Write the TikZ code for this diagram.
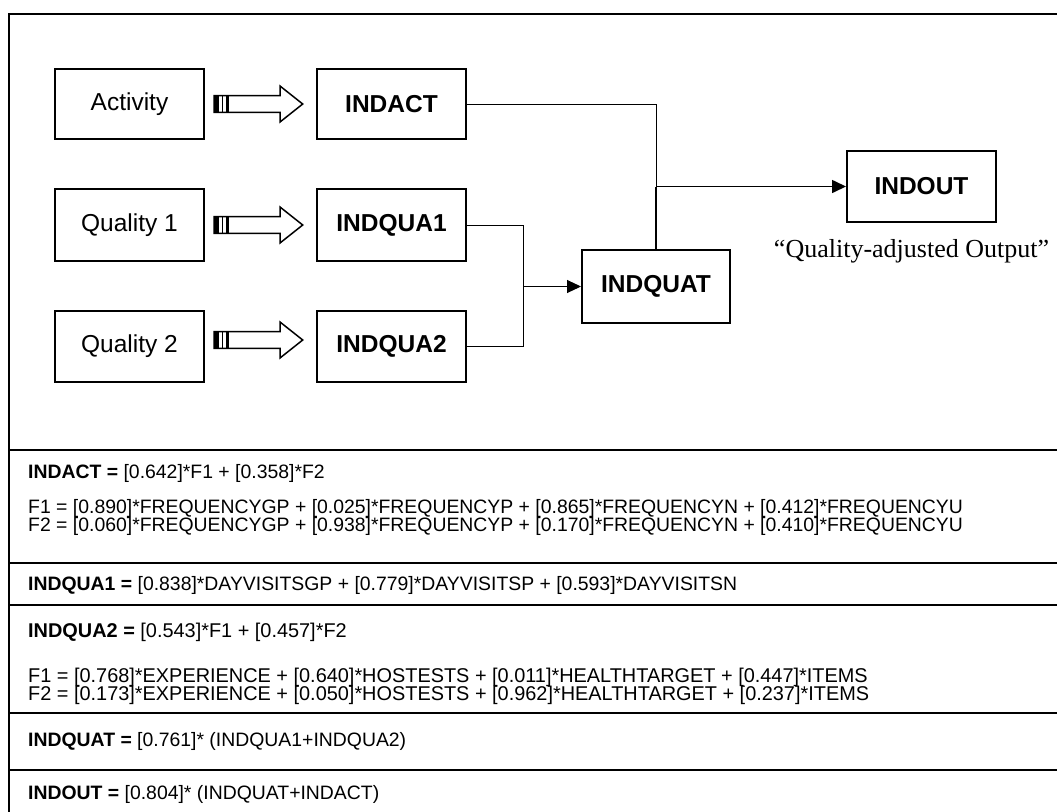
\documentclass[tikz,border=0pt]{standalone}
\usepackage{fontspec}
\setmainfont{Liberation Sans}
\newfontfamily\seriffont{Liberation Serif}
\usetikzlibrary{arrows.meta,calc}
\newcommand{\fatarrow}[1]{%
  \begin{scope}[shift={(#1)}]
    \draw[fat,fill=white] (0,-8.3) -- (66,-8.3) -- (66,-18) -- (88.7,0) -- (66,18) -- (66,8.3) -- (0,8.3) -- cycle;
    \fill (0,-8.3) rectangle (5,8.3);
    \draw[line width=1.3pt] (8.3,-8.3) -- (8.3,8.3);
    \fill (12,-8.3) rectangle (15,8.3);
  \end{scope}}
\begin{document}
\begin{tikzpicture}[x=1pt,y=-1pt,
  box/.style={draw,line width=2pt,minimum width=149pt,inner sep=0pt,font=\fontsize{24.5}{28}\selectfont},
  bbox/.style={box,font=\fontsize{24.5}{28}\selectfont\bfseries},
  conn/.style={line width=1pt},
  outconn/.style={line width=1.6pt},
  tip/.style={-{Triangle[length=14pt,width=13pt]}},
  eq/.style={anchor=base west,inner sep=0pt,font=\fontsize{19.4}{18.3}\selectfont},
  eqw/.style={eq,font=\fontsize{19.9}{18.3}\selectfont},
  sep/.style={line width=2pt},
  fat/.style={line width=1.5pt}]
\useasboundingbox (0,0) rectangle (1057,811);
% outer frame and row separators
\draw[sep] (9,14) rectangle (1075,840);
\foreach \yy in {450,563,605,713,770} \draw[sep] (9,\yy) -- (1075,\yy);
% boxes
\node[box,minimum height=70pt] (act) at (129.5,104) {Activity};
\node[box,minimum height=72pt] (q1) at (129.5,225) {Quality 1};
\node[box,minimum height=71pt] (q2) at (129.5,346.5) {Quality 2};
\node[bbox,minimum height=70pt] (indact) at (391.5,104) {INDACT};
\node[bbox,minimum height=72pt] (indq1) at (391.5,225) {INDQUA1};
\node[bbox,minimum height=71pt] (indq2) at (391.5,346.5) {INDQUA2};
\node[bbox,minimum width=148pt,minimum height=73pt] (quat) at (656,286.5) {INDQUAT};
\node[bbox,minimum width=149pt,minimum height=71pt] (out) at (921.5,186.5) {INDOUT};
\node[inner sep=0pt,font=\seriffont\fontsize{26}{28}\selectfont] (outlbl) at (911.5,251) {“Quality-adjusted Output”};
% hollow arrows
\path (act.east) ++(9,0) coordinate (fa1);
\path (q1.east) ++(9,0) coordinate (fa2);
\path (q2.east) ++(9,-6.5) coordinate (fa3);
\fatarrow{fa1}
\fatarrow{fa2}
\fatarrow{fa3}
% connectors
\coordinate (j1) at (523,286.5);
\draw[conn] (indq1.east) -| (j1);
\draw[conn] (indq2.east) -| (j1);
\draw[conn,tip] (j1) -- (quat.west);
\draw[conn] (indact.east) -| (quat.north);
\coordinate (j2) at (quat.north |- out.west);
\draw[outconn] (quat.north) -- (j2);
\draw[outconn,tip] (j2) -- (out.west);
% equations
\node[eq] (e1) at (28,478) {\textbf{INDACT =} [0.642]*F1 + [0.358]*F2};
\node[eq] (e2) at (28,513) {F1 = [0.890]*FREQUENCYGP + [0.025]*FREQUENCYP + [0.865]*FREQUENCYN + [0.412]*FREQUENCYU};
\node[eq] (e3) at (28,531) {F2 = [0.060]*FREQUENCYGP + [0.938]*FREQUENCYP + [0.170]*FREQUENCYN + [0.410]*FREQUENCYU};
\node[eq] (e4) at (28,590) {\textbf{INDQUA1 =} [0.838]*DAYVISITSGP + [0.779]*DAYVISITSP + [0.593]*DAYVISITSN};
\node[eqw] (e5) at (28,637) {\textbf{INDQUA2 =} [0.543]*F1 + [0.457]*F2};
\node[eqw] (e6) at (28,682) {F1 = [0.768]*EXPERIENCE + [0.640]*HOSTESTS + [0.011]*HEALTHTARGET + [0.447]*ITEMS};
\node[eqw] (e7) at (28,700) {F2 = [0.173]*EXPERIENCE + [0.050]*HOSTESTS + [0.962]*HEALTHTARGET + [0.237]*ITEMS};
\node[eq] (e8) at (28,746) {\textbf{INDQUAT =} [0.761]* (INDQUA1+INDQUA2)};
\node[eq] (e9) at (28,799) {\textbf{INDOUT =} [0.804]* (INDQUAT+INDACT)};
\end{tikzpicture}
\end{document}
